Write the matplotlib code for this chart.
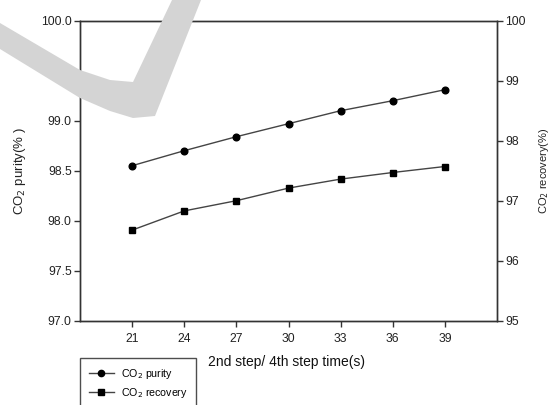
import matplotlib.pyplot as plt
from matplotlib.patches import Polygon
from matplotlib.lines import Line2D

# step times (s) and measured values
step_time = [21, 24, 27, 30, 33, 36, 39]
purity = [98.55, 98.70, 98.84, 98.97, 99.10, 99.20, 99.31]
recovery = [96.51, 96.83, 97.00, 97.21, 97.36, 97.47, 97.57]

x_ticks = [21, 24, 27, 30, 33, 36, 39]
left_ticks = [97.0, 97.5, 98.0, 98.5, 99.0, 99.5, 100.0]
right_ticks = [95, 96, 97, 98, 99, 100]

plt.rcParams["font.family"] = ["Liberation Sans", "DejaVu Sans"]

W, H = 555, 405
fig = plt.figure(figsize=(W / 100, H / 100), dpi=100)

# light grey check-mark behind the plot
mark_px = [(0, 23), (80, 70), (110, 80), (133, 82), (172, 0), (201, 0),
           (155, 116), (133, 118), (110, 111), (80, 98), (0, 49)]
mark = Polygon([(x / W, 1 - y / H) for x, y in mark_px], closed=True,
               transform=fig.transFigure, facecolor="#d4d4d4",
               edgecolor="none", zorder=0)
fig.patches.append(mark)

ax = fig.add_axes([80 / W, 1 - 320.7 / H, 417 / W, 300 / H])
ax.set_facecolor("none")
ax2 = ax.twinx()

line_kw = dict(color="#444444", linewidth=1.0, markerfacecolor="black",
               markeredgecolor="black")
ax.plot(step_time, purity, marker="o", markersize=4.8, **line_kw)
ax2.plot(step_time, recovery, marker="s", markersize=4.8, **line_kw)

ax.set_xlim(18, 42)
ax.set_ylim(97.0, 100.0)
ax2.set_ylim(95, 100)

ax.set_xticks(x_ticks)
ax.set_yticks(left_ticks)
ax.set_yticklabels([f"{v:.1f}" for v in left_ticks])
ax2.set_yticks(right_ticks)

for a in (ax, ax2):
    for s in a.spines.values():
        s.set_color("#333333")
        s.set_linewidth(1.0)
    a.tick_params(direction="out", length=4, width=1, color="#333333",
                  labelsize=8.7, labelcolor="#222222")
ax.tick_params(axis="x", pad=5)
ax.tick_params(axis="y", pad=2)
ax2.tick_params(axis="y", pad=2)

ax.set_ylabel("CO$_2$ purity(% )", fontsize=9.5, color="#222222",
              labelpad=9)
ax2.set_ylabel("CO$_2$ recovery(%)", fontsize=8, color="#222222",
               labelpad=8)
fig.text(286 / W, 1 - 362 / H, "2nd step/ 4th step time(s)", fontsize=10,
         color="#111111", ha="center", va="center")

handles = [
    Line2D([], [], marker="o", markersize=4.5, **line_kw),
    Line2D([], [], marker="s", markersize=4.5, **line_kw),
]
leg = fig.legend(handles, ["CO$_2$ purity", "CO$_2$ recovery"],
                 loc="upper left", bbox_to_anchor=(80 / W, 1 - 358 / H),
                 fontsize=7.7, frameon=True, fancybox=False,
                 handlelength=2.4, borderpad=0.8, labelspacing=0.5,
                 handletextpad=0.6, borderaxespad=0)
leg.get_frame().set_edgecolor("#222222")
leg.get_frame().set_linewidth(1.0)

fig.savefig("out.png", dpi=100)
